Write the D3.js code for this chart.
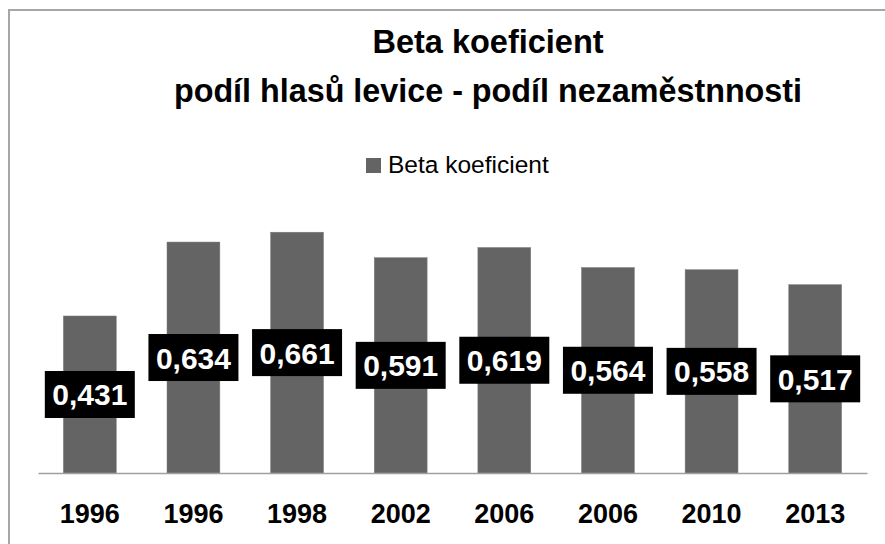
<!DOCTYPE html>
<html><head><meta charset="utf-8">
<script src="https://cdn.jsdelivr.net/npm/d3@7"></script>
<style>body{margin:0;background:#fff}svg{display:block}</style>
</head><body>
<script>
const categories = ["1996","1996","1998","2002","2006","2006","2010","2013"];
const values = [0.431,0.634,0.661,0.591,0.619,0.564,0.558,0.517];
const labels = ["0,431","0,634","0,661","0,591","0,619","0,564","0,558","0,517"];
const seriesName = "Beta koeficient";
const titleLines = ["Beta koeficient","podíl hlasů levice - podíl nezaměstnnosti"];

const W = 885, H = 544;
const svg = d3.select("body").append("svg").attr("width", W).attr("height", H);
svg.append("rect").attr("x",9).attr("y",10).attr("width",W).attr("height",H)
  .attr("fill","#fff").attr("stroke","#a6a6a6").attr("stroke-width",2);

const font = "'Liberation Sans', Arial, sans-serif";
const x = d3.scaleBand().domain(d3.range(categories.length)).range([38, 867])
  .paddingInner(0.49).paddingOuter(0.245);
const y = d3.scaleLinear().domain([0, 0.7]).range([473, 218]);

svg.selectAll("text.title").data(titleLines).join("text")
  .attr("x", 488).attr("y", (d,i) => 53 + i*49)
  .attr("text-anchor","middle").attr("font-family",font).attr("font-weight","bold")
  .attr("font-size",(d,i)=> i===0 ? 32.5 : 32.3).attr("fill","#000").text(d => d);

// legend
svg.append("rect").attr("x",366).attr("y",158).attr("width",15).attr("height",15).attr("fill","#646464");
svg.append("text").attr("x",388).attr("y",173).attr("font-family",font).attr("font-size",24.5)
  .attr("fill","#000").text(seriesName);

svg.selectAll("rect.bar").data(values).join("rect").attr("class","bar")
  .attr("x",(d,i)=>x(i)).attr("width",x.bandwidth())
  .attr("y",d=>y(d)).attr("height",d=>y(0)-y(d))
  .attr("fill","#646464").attr("stroke","#7a7a7a").attr("stroke-width",0.5);

const xAxis = svg.append("g").attr("transform","translate(0,473)")
  .call(d3.axisBottom(x).tickSize(0).tickFormat(i => categories[i]));
xAxis.select(".domain").attr("stroke","#a0a0a0").attr("stroke-width",1.5);
xAxis.selectAll("text").attr("font-family",font).attr("font-weight","bold")
  .attr("font-size",27).attr("fill","#000").attr("dy",0).attr("y",50);

const lg = svg.selectAll("g.lab").data(values).join("g").attr("class","lab")
  .attr("transform",(d,i)=>`translate(${x(i)+x.bandwidth()/2},${(y(d)+y(0))/2})`);
lg.append("rect").attr("x",-45).attr("y",-23.5).attr("width",90).attr("height",47).attr("fill","#000");
lg.append("text").attr("text-anchor","middle").attr("y",11)
  .attr("font-family",font).attr("font-weight","bold").attr("font-size",30)
  .attr("fill","#fff").text((d,i)=>labels[i]);
</script>
</body></html>
